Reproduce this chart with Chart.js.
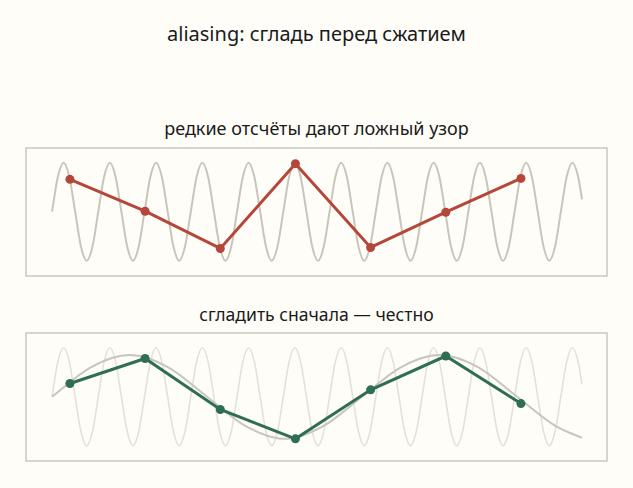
<!DOCTYPE html>
<html>
<head>
<meta charset="utf-8">
<script src="https://cdn.jsdelivr.net/npm/chart.js@4.4.1/dist/chart.umd.min.js"></script>
<style>
  body { margin: 0; background: #fffdf8; width: 633px; height: 488px; overflow: hidden; position: relative; font-family: "Noto Sans", "Open Sans", sans-serif; color: #1a1a1a; }
  .t { position: absolute; left: 0; width: 633px; text-align: center; white-space: nowrap; }
  #main { top: 20px; font-size: 20px; }
  #sub1 { top: 116px; font-size: 18px; }
  #sub2 { top: 302px; font-size: 17.6px; }
  canvas { position: absolute; left: 16px; }
  #c1 { top: 138px; }
  #c2 { top: 323px; }
</style>
</head>
<body>
<div class="t" id="main">aliasing: сгладь перед сжатием</div>
<div class="t" id="sub1">редкие отсчёты дают ложный узор</div>
<div class="t" id="sub2">сгладить сначала — честно</div>
<canvas id="c1" width="601" height="148"></canvas>
<canvas id="c2" width="601" height="148"></canvas>
<script>
// x в шагах по 1/8 периода быстрой волны
const fastY = [
  0, 0.71, 1, 0.71, 0, -0.71, -1, -0.71,
  0, 0.71, 1, 0.71, 0, -0.71, -1, -0.71,
  0, 0.71, 1, 0.71, 0, -0.71, -1, -0.71,
  0, 0.71, 1, 0.71, 0, -0.71, -1, -0.71,
  0, 0.71, 1, 0.71, 0, -0.71, -1, -0.71,
  0, 0.71, 1, 0.71, 0, -0.71, -1, -0.71,
  0, 0.71, 1, 0.71, 0, -0.71, -1, -0.71,
  0, 0.71, 1, 0.71, 0, -0.71, -1, -0.71,
  0, 0.71, 1, 0.71, 0, -0.71, -1, -0.71,
  0, 0.71, 1, 0.71, 0, -0.71, -1, -0.71,
  0, 0.71, 1, 0.71, 0, -0.71, -1, -0.71,
  0, 0.71, 1, 0.71
];
const fastEndX = 91.66;
const fastEndY = 0.25;

// медленная (сглаженная) волна
const slowX = [0, 6.7, 13.4, 20.1, 26.81, 33.51, 40.21, 46.91, 53.61, 60.31, 67.01, 73.72, 80.42, 87.12, 91.66];
const slowY = [0, 0.6, 0.85, 0.6, 0, -0.6, -0.86, -0.6, 0, 0.6, 0.85, 0.6, 0, -0.6, -0.84];

// отсчёты
const sampleX = [3.1, 16.1, 29.1, 42.1, 55.1, 68.1, 81.1];
const aliasY = [0.66, 0.01, -0.75, 0.98, -0.73, -0.01, 0.68];
const smoothY = [0.27, 0.78, -0.26, -0.86, 0.14, 0.83, -0.14];

const fastPts = fastY.map((y, i) => ({ x: i, y: y })).concat([{ x: fastEndX, y: fastEndY }]);
const slowPts = slowX.map((x, i) => ({ x: x, y: slowY[i] }));
const aliasPts = sampleX.map((x, i) => ({ x: x, y: aliasY[i] }));
const smoothPts = sampleX.map((x, i) => ({ x: x, y: smoothY[i] }));

const boxPlugin = {
  id: 'box',
  afterDraw(chart) {
    const a = chart.chartArea;
    const c = chart.ctx;
    c.save();
    c.strokeStyle = '#c9c7c0';
    c.lineWidth = 1.5;
    c.strokeRect(a.left, a.top, a.right - a.left, a.bottom - a.top);
    c.restore();
  }
};

function waveSet(pts, color, width, order) {
  return {
    data: pts, borderColor: color, borderWidth: width, pointRadius: 0,
    cubicInterpolationMode: 'monotone', fill: false, order: order
  };
}

function sampleSet(pts, color) {
  return {
    data: pts, borderColor: color, backgroundColor: color, borderWidth: 3,
    pointRadius: 4.5, pointBorderWidth: 0, pointBackgroundColor: color,
    tension: 0, fill: false, order: 0
  };
}

function makeChart(id, datasets) {
  return new Chart(document.getElementById(id), {
    type: 'line',
    data: { datasets: datasets },
    options: {
      responsive: false,
      animation: false,
      layout: { padding: 10 },
      plugins: { legend: { display: false }, tooltip: { enabled: false } },
      scales: {
        x: { type: 'linear', min: -4.5, max: 95.98, display: false },
        y: { min: -1.312, max: 1.30, display: false }
      }
    },
    plugins: [boxPlugin]
  });
}

makeChart('c1', [
  sampleSet(aliasPts, '#b5473a'),
  waveSet(fastPts, '#c8c5bd', 2, 1)
]);

makeChart('c2', [
  sampleSet(smoothPts, '#2f6e55'),
  waveSet(slowPts, '#c8c5bd', 2, 1),
  waveSet(fastPts, '#e3e1da', 1.6, 2)
]);
</script>
</body>
</html>
